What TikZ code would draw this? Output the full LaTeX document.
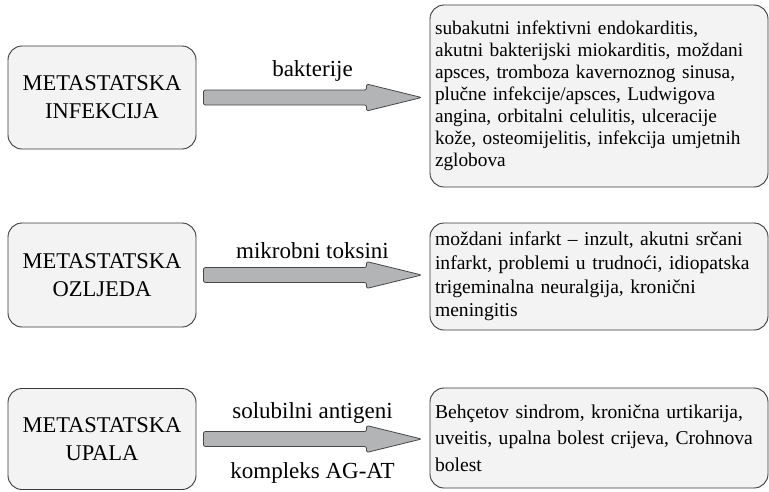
\documentclass[tikz,border=0pt]{standalone}
\usepackage{fontspec}
\setmainfont{Liberation Serif}
\usepackage{tikz}
\usetikzlibrary{calc}
\definecolor{boxgray}{HTML}{F2F3F2}
\definecolor{arrowgray}{HTML}{B3B4B5}
\definecolor{edgegray}{HTML}{3A3A3A}

\begin{document}
\begin{tikzpicture}[x=1pt,y=1pt,
  uzrok/.style={draw=edgegray,fill=boxgray,rounded corners=14pt,line width=0.9pt,
    minimum width=188pt,align=center,font=\fontsize{22.5}{28}\selectfont},
  posljedica/.style={draw=edgegray,fill=boxgray,rounded corners=14pt,line width=0.9pt,
    minimum width=338pt,text width=328pt,inner xsep=0pt,align=left},
  put/.style={draw=black!72,fill=arrowgray,line width=0.8pt,rounded corners=2pt},
  oznaka/.style={font=\fontsize{23}{26}\selectfont}]
  \useasboundingbox (0,0) rectangle (769,-491);

  % lijevi stupac
  \node[uzrok,minimum height=103pt] (infekcija) at (102,-97.5) {METASTATSKA\\INFEKCIJA};
  \node[uzrok,minimum height=104pt] (ozljeda) at (102,-275) {METASTATSKA\\OZLJEDA};
  \node[uzrok,minimum height=101pt] (upala) at (102,-439) {METASTATSKA\\UPALA};

  % desni stupac
  \node[posljedica,minimum height=182pt,font=\fontsize{19.3}{22}\selectfont]
    (infekcijaishod) at (599,-96)
    {subakutni infektivni endokarditis,\\
     akutni bakterijski miokarditis, moždani\\
     apsces, tromboza kavernoznog sinusa,\\
     plučne infekcije/apsces, Ludwigova\\
     angina, orbitalni celulitis, ulceracije\\
     kože, osteomijelitis, infekcija umjetnih\\
     zglobova};
  \node[posljedica,minimum height=107pt,font=\fontsize{19.6}{23.7}\selectfont]
    (ozljedaishod) at (599,-276.5)
    {moždani infarkt – inzult, akutni srčani\\
     infarkt, problemi u trudnoći, idiopatska\\
     trigeminalna neuralgija, kronični\\
     meningitis};
  \node[posljedica,minimum height=100pt,font=\fontsize{19.6}{26.5}\selectfont]
    (upalaishod) at (599,-438)
    {Behçetov sindrom, kronična urtikarija,\\
     uveitis, upalna bolest crijeva, Crohnova\\
     bolest};

  % strelice
  \foreach \iz/\u in {infekcija/infekcijaishod,ozljeda/ozljedaishod,upala/upalaishod}{
    \coordinate (p) at ($(\iz.east)+(7,0)$);
    \coordinate (q) at ($(p -| \u.west)+(-8,0)$);
    \draw[put] ($(p)+(0,7.5)$) -- ($(q)+(-55,7.5)$) -- ($(q)+(-55,13.5)$) -- (q)
      -- ($(q)+(-55,-13.5)$) -- ($(q)+(-55,-7.5)$) -- ($(p)+(0,-7.5)$) -- cycle;
  }

  \node[oznaka] (bakterije) at (312.5,-71) {bakterije};
  \node[oznaka] (toksini) at (312.5,-251) {mikrobni toksini};
  \node[oznaka] (antigeni) at (312.5,-413) {solubilni antigeni};
  \node[oznaka] (kompleks) at (312.5,-473) {kompleks AG-AT};
\end{tikzpicture}
\end{document}
